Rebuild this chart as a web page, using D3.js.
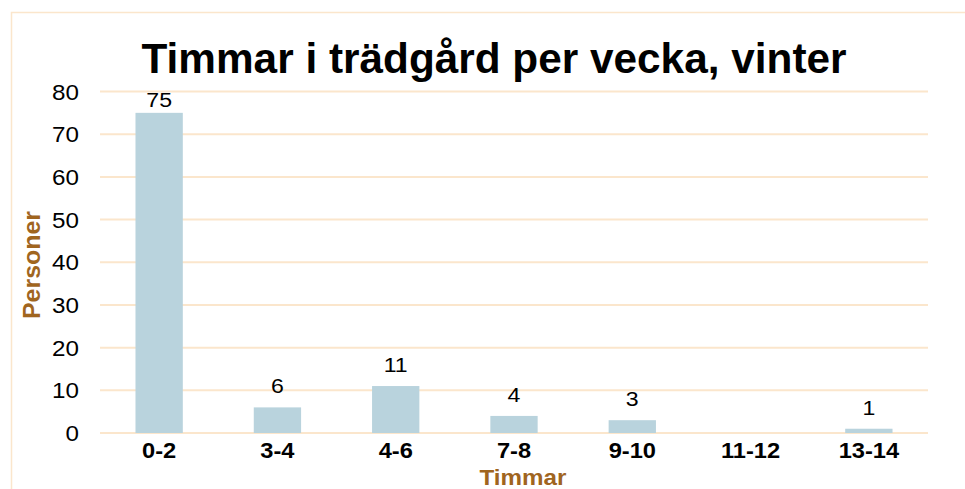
<!DOCTYPE html>
<html>
<head>
<meta charset="utf-8">
<script src="https://cdn.jsdelivr.net/npm/d3@7"></script>
<style>
  body { margin: 0; background: #fff; }
  svg { display: block; font-family: "Liberation Sans", Arial, sans-serif; }
</style>
</head>
<body>
<svg id="chart" width="965" height="489"></svg>
<script>
// data
const categories = ["0-2", "3-4", "4-6", "7-8", "9-10", "11-12", "13-14"];
const personer = [75, 6, 11, 4, 3, null, 1];
const yTicks = [0, 10, 20, 30, 40, 50, 60, 70, 80];

const width = 965;
const height = 489;
const margin = {top: 91.5, right: 37, bottom: 56, left: 100};
// the source text is a bit wider than Liberation Sans, stretch it sideways
const sx = 1.1;

const svg = d3.select("#chart");

// outer frame of the chart area
svg.append("rect")
  .attr("x", 11.5).attr("y", 12.5)
  .attr("width", 1000).attr("height", 500)
  .attr("fill", "none")
  .attr("stroke", "#fbe6cc")
  .attr("stroke-width", 1.5);

const x = d3.scaleBand()
  .domain(categories)
  .range([margin.left, width - margin.right])
  .paddingInner(0.6)
  .paddingOuter(0.3);

const y = d3.scaleLinear()
  .domain([0, 80])
  .range([height - margin.bottom, margin.top]);

// gridlines
svg.append("g")
  .selectAll("line")
  .data(yTicks)
  .join("line")
  .attr("x1", margin.left)
  .attr("x2", width - margin.right)
  .attr("y1", d => y(d))
  .attr("y2", d => y(d))
  .attr("stroke", "#fbe6cc")
  .attr("stroke-width", 2);

// y tick labels
svg.append("g")
  .selectAll("text")
  .data(yTicks)
  .join("text")
  .attr("transform", d => `translate(79,${y(d) + 8}) scale(${sx},1)`)
  .attr("text-anchor", "end")
  .attr("font-size", 22)
  .attr("fill", "#000")
  .text(d => d);

const rows = categories.map((c, i) => ({cat: c, val: personer[i]}))
  .filter(d => d.val != null);

// bars
svg.append("g")
  .selectAll("rect")
  .data(rows)
  .join("rect")
  .attr("x", d => x(d.cat))
  .attr("width", x.bandwidth())
  .attr("y", d => y(d.val))
  .attr("height", d => y(0) - y(d.val))
  .attr("fill", "#b9d3dd");

// value labels (kept inside the plot area, like the tall first bar)
svg.append("g")
  .selectAll("text")
  .data(rows)
  .join("text")
  .attr("transform", d => {
    const lx = x(d.cat) + x.bandwidth() / 2;
    const ly = Math.max(y(d.val) - 14, margin.top + 15);
    return `translate(${lx},${ly}) scale(${sx},1)`;
  })
  .attr("text-anchor", "middle")
  .attr("font-size", 21)
  .attr("fill", "#000")
  .text(d => d.val);

// category labels
svg.append("g")
  .selectAll("text")
  .data(categories)
  .join("text")
  .attr("transform", d => `translate(${x(d) + x.bandwidth() / 2},${y(0) + 25}) scale(${sx},1)`)
  .attr("text-anchor", "middle")
  .attr("font-size", 21.5)
  .attr("font-weight", "bold")
  .attr("fill", "#000")
  .text(d => d);

// title
svg.append("text")
  .attr("x", 494)
  .attr("y", 73)
  .attr("text-anchor", "middle")
  .attr("font-size", 43)
  .attr("font-weight", "bold")
  .attr("fill", "#000")
  .attr("textLength", 705)
  .attr("lengthAdjust", "spacingAndGlyphs")
  .text("Timmar i trädgård per vecka, vinter");

// axis titles
svg.append("text")
  .attr("transform", `translate(523,485) scale(${sx},1)`)
  .attr("text-anchor", "middle")
  .attr("font-size", 22)
  .attr("font-weight", "bold")
  .attr("fill", "#a0651f")
  .text("Timmar");

svg.append("text")
  .attr("transform", "translate(40,265) rotate(-90)")
  .attr("text-anchor", "middle")
  .attr("font-size", 23)
  .attr("font-weight", "bold")
  .attr("fill", "#a0651f")
  .attr("textLength", 108)
  .attr("lengthAdjust", "spacingAndGlyphs")
  .text("Personer");
</script>
</body>
</html>
